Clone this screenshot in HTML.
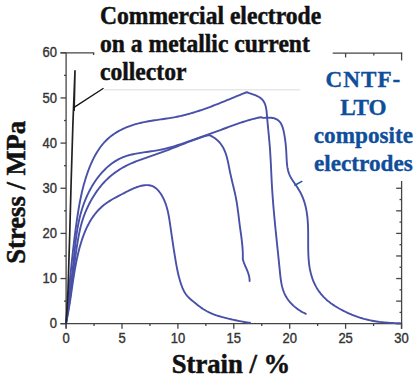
<!DOCTYPE html>
<html><head><meta charset="utf-8"><style>
html,body{margin:0;padding:0;background:#fff;width:418px;height:379px;overflow:hidden}
svg{display:block}
.tl{font-family:"Liberation Sans",sans-serif;font-size:13px;fill:#333;stroke:#333;stroke-width:0.35px}
.ti{font-family:"Liberation Serif",serif;font-weight:bold;font-size:23.6px;fill:#111;stroke:#111;stroke-width:0.45px}
.bl{font-family:"Liberation Serif",serif;font-weight:bold;font-size:23.2px;fill:#0f4e9a;stroke:#0f4e9a;stroke-width:0.35px}
.ax{font-family:"Liberation Serif",serif;font-weight:bold;font-size:27px;fill:#111;stroke:#111;stroke-width:0.5px}
</style></head><body>
<svg width="418" height="379" viewBox="0 0 418 379">
<line x1="66.1" y1="52.8" x2="66.1" y2="328.5" stroke="#444" stroke-width="1.3"/>
<line x1="60.5" y1="52.8" x2="94.2" y2="52.8" stroke="#444" stroke-width="1.3"/>
<line x1="93.6" y1="52.8" x2="93.6" y2="55" stroke="#444" stroke-width="1.3"/>
<line x1="332.7" y1="53.1" x2="402.2" y2="53.1" stroke="#444" stroke-width="1.3"/>
<line x1="401.6" y1="52.5" x2="401.6" y2="60.5" stroke="#444" stroke-width="1.3"/>
<line x1="345.6" y1="53.1" x2="345.6" y2="57.5" stroke="#444" stroke-width="1.3"/>
<line x1="373.8" y1="53.1" x2="373.8" y2="55.5" stroke="#444" stroke-width="1.3"/>
<line x1="60.5" y1="323.7" x2="402.2" y2="323.7" stroke="#444" stroke-width="1.3"/>
<line x1="401.6" y1="181" x2="401.6" y2="328.8" stroke="#444" stroke-width="1.3"/>
<line x1="60.5" y1="323.70" x2="66.1" y2="323.70" stroke="#444" stroke-width="1.3"/>
<text transform="translate(57,328.30) scale(1,1.08)" text-anchor="end" class="tl">0</text>
<line x1="64" y1="301.12" x2="66.1" y2="301.12" stroke="#444" stroke-width="1.3"/>
<line x1="60.5" y1="278.55" x2="66.1" y2="278.55" stroke="#444" stroke-width="1.3"/>
<text transform="translate(57,283.15) scale(1,1.08)" text-anchor="end" class="tl">10</text>
<line x1="64" y1="255.97" x2="66.1" y2="255.97" stroke="#444" stroke-width="1.3"/>
<line x1="60.5" y1="233.40" x2="66.1" y2="233.40" stroke="#444" stroke-width="1.3"/>
<text transform="translate(57,238.00) scale(1,1.08)" text-anchor="end" class="tl">20</text>
<line x1="64" y1="210.82" x2="66.1" y2="210.82" stroke="#444" stroke-width="1.3"/>
<line x1="60.5" y1="188.25" x2="66.1" y2="188.25" stroke="#444" stroke-width="1.3"/>
<text transform="translate(57,192.85) scale(1,1.08)" text-anchor="end" class="tl">30</text>
<line x1="64" y1="165.68" x2="66.1" y2="165.68" stroke="#444" stroke-width="1.3"/>
<line x1="60.5" y1="143.10" x2="66.1" y2="143.10" stroke="#444" stroke-width="1.3"/>
<text transform="translate(57,147.70) scale(1,1.08)" text-anchor="end" class="tl">40</text>
<line x1="64" y1="120.53" x2="66.1" y2="120.53" stroke="#444" stroke-width="1.3"/>
<line x1="60.5" y1="97.95" x2="66.1" y2="97.95" stroke="#444" stroke-width="1.3"/>
<text transform="translate(57,102.55) scale(1,1.08)" text-anchor="end" class="tl">50</text>
<line x1="64" y1="75.38" x2="66.1" y2="75.38" stroke="#444" stroke-width="1.3"/>
<line x1="60.5" y1="52.80" x2="66.1" y2="52.80" stroke="#444" stroke-width="1.3"/>
<text transform="translate(57,57.40) scale(1,1.08)" text-anchor="end" class="tl">60</text>
<line x1="396.2" y1="323.70" x2="401.6" y2="323.70" stroke="#444" stroke-width="1.3"/>
<line x1="399.5" y1="312.41" x2="401.6" y2="312.41" stroke="#444" stroke-width="1.3"/>
<line x1="396.2" y1="301.12" x2="401.6" y2="301.12" stroke="#444" stroke-width="1.3"/>
<line x1="399.5" y1="289.84" x2="401.6" y2="289.84" stroke="#444" stroke-width="1.3"/>
<line x1="396.2" y1="278.55" x2="401.6" y2="278.55" stroke="#444" stroke-width="1.3"/>
<line x1="399.5" y1="267.26" x2="401.6" y2="267.26" stroke="#444" stroke-width="1.3"/>
<line x1="396.2" y1="255.97" x2="401.6" y2="255.97" stroke="#444" stroke-width="1.3"/>
<line x1="399.5" y1="244.69" x2="401.6" y2="244.69" stroke="#444" stroke-width="1.3"/>
<line x1="396.2" y1="233.40" x2="401.6" y2="233.40" stroke="#444" stroke-width="1.3"/>
<line x1="399.5" y1="222.11" x2="401.6" y2="222.11" stroke="#444" stroke-width="1.3"/>
<line x1="396.2" y1="210.82" x2="401.6" y2="210.82" stroke="#444" stroke-width="1.3"/>
<line x1="399.5" y1="199.54" x2="401.6" y2="199.54" stroke="#444" stroke-width="1.3"/>
<line x1="396.2" y1="188.25" x2="401.6" y2="188.25" stroke="#444" stroke-width="1.3"/>
<line x1="66.10" y1="323.7" x2="66.10" y2="328.8" stroke="#444" stroke-width="1.3"/>
<text transform="translate(66.10,343) scale(1,1.08)" text-anchor="middle" class="tl">0</text>
<line x1="122.00" y1="323.7" x2="122.00" y2="328.8" stroke="#444" stroke-width="1.3"/>
<text transform="translate(122.00,343) scale(1,1.08)" text-anchor="middle" class="tl">5</text>
<line x1="177.90" y1="323.7" x2="177.90" y2="328.8" stroke="#444" stroke-width="1.3"/>
<text transform="translate(177.90,343) scale(1,1.08)" text-anchor="middle" class="tl">10</text>
<line x1="233.80" y1="323.7" x2="233.80" y2="328.8" stroke="#444" stroke-width="1.3"/>
<text transform="translate(233.80,343) scale(1,1.08)" text-anchor="middle" class="tl">15</text>
<line x1="289.70" y1="323.7" x2="289.70" y2="328.8" stroke="#444" stroke-width="1.3"/>
<text transform="translate(289.70,343) scale(1,1.08)" text-anchor="middle" class="tl">20</text>
<line x1="345.60" y1="323.7" x2="345.60" y2="328.8" stroke="#444" stroke-width="1.3"/>
<text transform="translate(345.60,343) scale(1,1.08)" text-anchor="middle" class="tl">25</text>
<line x1="401.50" y1="323.7" x2="401.50" y2="328.8" stroke="#444" stroke-width="1.3"/>
<text transform="translate(401.50,343) scale(1,1.08)" text-anchor="middle" class="tl">30</text>
<line x1="94.05" y1="323.7" x2="94.05" y2="326" stroke="#444" stroke-width="1.3"/>
<line x1="149.95" y1="323.7" x2="149.95" y2="326" stroke="#444" stroke-width="1.3"/>
<line x1="205.85" y1="323.7" x2="205.85" y2="326" stroke="#444" stroke-width="1.3"/>
<line x1="261.75" y1="323.7" x2="261.75" y2="326" stroke="#444" stroke-width="1.3"/>
<line x1="317.65" y1="323.7" x2="317.65" y2="326" stroke="#444" stroke-width="1.3"/>
<line x1="373.55" y1="323.7" x2="373.55" y2="326" stroke="#444" stroke-width="1.3"/>
<line x1="104" y1="89.8" x2="300" y2="89.8" stroke="#e6e8ea" stroke-width="1.5"/>
<path d="M66.00,323.50 L66.11,321.99 L66.24,320.51 L66.38,319.02 L66.52,317.54 L66.66,316.06 L66.79,314.57 L66.93,313.08 L67.07,311.60 L67.20,310.11 L67.34,308.63 L67.48,307.14 L67.61,305.65 L67.75,304.16 L67.88,302.67 L68.02,301.19 L68.15,299.70 L68.29,298.21 L68.43,296.72 L68.56,295.23 L68.70,293.74 L68.84,292.25 L68.97,290.76 L69.11,289.27 L69.25,287.78 L69.39,286.28 L69.53,284.79 L69.67,283.30 L69.81,281.81 L69.95,280.32 L70.09,278.83 L70.24,277.34 L70.38,275.85 L70.53,274.36 L70.67,272.86 L70.82,271.37 L70.97,269.88 L71.12,268.39 L71.27,266.90 L71.42,265.41 L71.57,263.92 L71.73,262.43 L71.88,260.94 L72.04,259.45 L72.20,257.96 L72.36,256.47 L72.52,254.99 L72.68,253.50 L72.85,252.01 L73.01,250.52 L73.18,249.03 L73.35,247.55 L73.52,246.06 L73.70,244.57 L73.87,243.09 L74.05,241.60 L74.23,240.12 L74.41,238.64 L74.60,237.15 L74.79,235.67 L74.97,234.19 L75.17,232.71 L75.36,231.22 L75.55,229.74 L75.75,228.26 L75.95,226.79 L76.16,225.31 L76.36,223.83 L76.57,222.35 L76.78,220.88 L77.00,219.40 L77.21,217.93 L77.43,216.45 L77.66,214.98 L77.89,213.51 L78.12,212.04 L78.36,210.57 L78.60,209.10 L78.85,207.63 L79.11,206.17 L79.37,204.70 L79.64,203.24 L79.91,201.77 L80.20,200.31 L80.49,198.85 L80.79,197.40 L81.09,195.94 L81.41,194.48 L81.74,193.03 L82.07,191.58 L82.42,190.12 L82.78,188.68 L83.14,187.23 L83.52,185.78 L83.91,184.34 L84.32,182.90 L84.73,181.45 L85.16,180.02 L85.60,178.58 L86.05,177.14 L86.52,175.71 L87.00,174.28 L87.49,172.85 L88.00,171.43 L88.53,170.00 L89.07,168.58 L89.63,167.16 L90.20,165.75 L90.80,164.34 L91.40,162.94 L92.03,161.55 L92.68,160.18 L93.35,158.81 L94.03,157.45 L94.74,156.11 L95.47,154.78 L96.22,153.47 L96.99,152.18 L97.78,150.91 L98.60,149.66 L99.45,148.42 L100.31,147.22 L101.21,146.03 L102.12,144.87 L103.07,143.74 L104.04,142.63 L105.04,141.55 L106.06,140.51 L107.12,139.49 L108.20,138.51 L109.30,137.55 L110.43,136.62 L111.59,135.73 L112.77,134.86 L113.97,134.02 L115.19,133.21 L116.43,132.42 L117.69,131.67 L118.97,130.94 L120.27,130.24 L121.59,129.56 L122.92,128.91 L124.26,128.29 L125.62,127.70 L127.00,127.12 L128.38,126.58 L129.78,126.06 L131.19,125.56 L132.61,125.09 L134.03,124.64 L135.47,124.21 L136.91,123.81 L138.36,123.43 L139.81,123.07 L141.27,122.73 L142.74,122.41 L144.21,122.10 L145.68,121.81 L147.16,121.53 L148.65,121.26 L150.13,121.01 L151.62,120.77 L153.11,120.53 L154.60,120.30 L156.10,120.08 L157.59,119.86 L159.09,119.64 L160.58,119.43 L162.08,119.21 L163.58,118.99 L165.07,118.78 L166.56,118.55 L168.05,118.32 L169.54,118.09 L171.03,117.85 L172.51,117.60 L173.99,117.33 L175.46,117.06 L176.93,116.77 L178.40,116.47 L179.86,116.15 L181.31,115.82 L182.77,115.48 L184.21,115.13 L185.66,114.76 L187.10,114.39 L188.54,114.00 L189.97,113.60 L191.40,113.19 L192.83,112.77 L194.25,112.34 L195.67,111.90 L197.09,111.45 L198.50,110.99 L199.91,110.52 L201.32,110.05 L202.73,109.56 L204.13,109.07 L205.53,108.58 L206.93,108.07 L208.33,107.56 L209.73,107.04 L211.12,106.52 L212.52,105.99 L213.91,105.45 L215.30,104.91 L216.69,104.37 L218.08,103.82 L219.46,103.27 L220.85,102.71 L222.24,102.16 L223.62,101.59 L225.00,101.03 L226.39,100.46 L227.77,99.90 L229.16,99.33 L230.54,98.76 L231.93,98.18 L233.31,97.61 L234.69,97.04 L236.08,96.47 L237.47,95.90 L238.85,95.33 L240.24,94.76 L241.63,94.19 L243.02,93.62 L244.41,93.06 L245.80,92.50 L247.30,92.30 L247.30,92.30 L248.58,92.84 L249.98,93.33 L251.42,93.81 L252.89,94.32 L254.36,94.85 L255.81,95.42 L257.21,96.05 L258.55,96.75 L259.81,97.52 L260.96,98.38 L262.00,99.32 L262.92,100.35 L263.71,101.47 L264.38,102.68 L264.94,103.95 L265.41,105.29 L265.79,106.68 L266.10,108.12 L266.35,109.59 L266.55,111.10 L266.71,112.63 L266.85,114.17 L266.98,115.71 L267.10,117.25 L267.23,118.77 L267.37,120.29 L267.50,121.81 L267.64,123.31 L267.78,124.81 L267.92,126.30 L268.06,127.79 L268.21,129.27 L268.35,130.75 L268.49,132.23 L268.64,133.70 L268.78,135.17 L268.92,136.64 L269.06,138.10 L269.19,139.57 L269.33,141.04 L269.46,142.50 L269.58,143.97 L269.70,145.44 L269.82,146.92 L269.93,148.39 L270.03,149.87 L270.13,151.35 L270.23,152.83 L270.32,154.32 L270.41,155.81 L270.50,157.30 L270.58,158.79 L270.66,160.28 L270.74,161.77 L270.82,163.27 L270.89,164.77 L270.97,166.26 L271.04,167.76 L271.11,169.26 L271.18,170.76 L271.25,172.26 L271.32,173.76 L271.39,175.26 L271.47,176.76 L271.54,178.26 L271.62,179.76 L271.69,181.26 L271.77,182.76 L271.86,184.26 L271.94,185.75 L272.03,187.25 L272.12,188.74 L272.21,190.23 L272.31,191.72 L272.41,193.21 L272.52,194.70 L272.62,196.19 L272.73,197.68 L272.84,199.16 L272.95,200.65 L273.07,202.13 L273.19,203.62 L273.31,205.10 L273.43,206.58 L273.56,208.07 L273.69,209.55 L273.82,211.03 L273.95,212.51 L274.08,213.99 L274.22,215.47 L274.35,216.95 L274.49,218.43 L274.63,219.91 L274.77,221.38 L274.92,222.86 L275.06,224.34 L275.20,225.82 L275.35,227.30 L275.50,228.78 L275.65,230.26 L275.80,231.74 L275.95,233.22 L276.10,234.70 L276.25,236.18 L276.40,237.66 L276.56,239.14 L276.71,240.62 L276.86,242.10 L277.02,243.58 L277.17,245.07 L277.33,246.55 L277.48,248.03 L277.64,249.52 L277.79,251.01 L277.95,252.49 L278.10,253.98 L278.26,255.47 L278.41,256.96 L278.56,258.45 L278.72,259.95 L278.87,261.44 L279.02,262.93 L279.17,264.43 L279.32,265.93 L279.47,267.43 L279.62,268.93 L279.77,270.43 L279.92,271.93 L280.07,273.44 L280.22,274.94 L280.39,276.43 L280.57,277.93 L280.77,279.41 L281.00,280.89 L281.24,282.36 L281.52,283.82 L281.82,285.27 L282.16,286.71 L282.54,288.12 L282.96,289.53 L283.43,290.91 L283.95,292.28 L284.52,293.62 L285.15,294.94 L285.84,296.24 L286.59,297.52 L287.40,298.76 L288.26,299.98 L289.18,301.17 L290.16,302.33 L291.17,303.45 L292.24,304.54 L293.34,305.59 L294.48,306.61 L295.65,307.58 L296.85,308.52 L298.08,309.41 L299.33,310.26 L300.60,311.06 L301.88,311.81 L303.18,312.52 L304.49,313.17 L305.80,313.80" fill="none" stroke="#4850a8" stroke-width="1.9" stroke-linejoin="round" stroke-linecap="round"/>
<path d="M66.00,323.50 L66.16,322.01 L66.33,320.52 L66.51,319.04 L66.69,317.55 L66.87,316.07 L67.05,314.59 L67.23,313.10 L67.42,311.62 L67.60,310.13 L67.79,308.65 L67.98,307.16 L68.17,305.67 L68.36,304.19 L68.55,302.70 L68.74,301.21 L68.93,299.73 L69.13,298.24 L69.32,296.75 L69.51,295.27 L69.70,293.78 L69.89,292.29 L70.08,290.80 L70.27,289.31 L70.46,287.83 L70.65,286.34 L70.84,284.85 L71.02,283.36 L71.21,281.87 L71.39,280.38 L71.57,278.89 L71.75,277.40 L71.93,275.91 L72.10,274.42 L72.28,272.93 L72.45,271.44 L72.62,269.95 L72.78,268.46 L72.95,266.97 L73.11,265.48 L73.26,263.99 L73.42,262.50 L73.57,261.01 L73.72,259.52 L73.87,258.02 L74.02,256.53 L74.17,255.04 L74.32,253.56 L74.47,252.07 L74.62,250.58 L74.78,249.09 L74.94,247.60 L75.10,246.12 L75.26,244.63 L75.43,243.15 L75.61,241.67 L75.79,240.19 L75.98,238.71 L76.17,237.23 L76.37,235.75 L76.58,234.27 L76.80,232.80 L77.03,231.33 L77.26,229.86 L77.51,228.39 L77.77,226.92 L78.04,225.46 L78.32,223.99 L78.61,222.53 L78.92,221.07 L79.24,219.62 L79.58,218.17 L79.93,216.72 L80.29,215.27 L80.67,213.82 L81.07,212.38 L81.48,210.94 L81.92,209.50 L82.37,208.07 L82.83,206.64 L83.32,205.22 L83.82,203.80 L84.35,202.39 L84.89,200.98 L85.45,199.58 L86.03,198.19 L86.62,196.80 L87.24,195.43 L87.88,194.06 L88.53,192.70 L89.21,191.35 L89.90,190.02 L90.62,188.69 L91.35,187.38 L92.11,186.08 L92.88,184.79 L93.68,183.52 L94.49,182.25 L95.33,181.01 L96.19,179.78 L97.07,178.56 L97.97,177.36 L98.90,176.18 L99.84,175.02 L100.81,173.87 L101.80,172.74 L102.81,171.63 L103.84,170.54 L104.89,169.47 L105.97,168.43 L107.07,167.40 L108.19,166.41 L109.33,165.44 L110.50,164.50 L111.68,163.59 L112.89,162.72 L114.11,161.88 L115.36,161.08 L116.62,160.32 L117.91,159.59 L119.22,158.91 L120.54,158.27 L121.89,157.68 L123.25,157.12 L124.63,156.61 L126.02,156.13 L127.43,155.69 L128.85,155.27 L130.29,154.89 L131.74,154.53 L133.19,154.20 L134.66,153.89 L136.14,153.60 L137.62,153.33 L139.12,153.08 L140.61,152.83 L142.12,152.60 L143.62,152.38 L145.13,152.16 L146.64,151.95 L148.16,151.74 L149.67,151.53 L151.18,151.31 L152.69,151.10 L154.19,150.87 L155.69,150.63 L157.19,150.38 L158.68,150.12 L160.16,149.84 L161.64,149.54 L163.11,149.22 L164.57,148.88 L166.02,148.53 L167.47,148.17 L168.91,147.78 L170.34,147.39 L171.77,146.98 L173.20,146.56 L174.62,146.12 L176.03,145.68 L177.45,145.23 L178.86,144.77 L180.27,144.30 L181.67,143.82 L183.08,143.34 L184.48,142.85 L185.88,142.36 L187.28,141.86 L188.68,141.36 L190.08,140.86 L191.48,140.36 L192.88,139.86 L194.29,139.36 L195.69,138.85 L197.10,138.35 L198.50,137.85 L199.91,137.34 L201.32,136.84 L202.72,136.34 L204.13,135.83 L205.54,135.33 L206.95,134.83 L208.36,134.32 L209.77,133.82 L211.18,133.31 L212.59,132.81 L214.00,132.30 L215.41,131.80 L216.82,131.29 L218.23,130.78 L219.65,130.28 L221.06,129.77 L222.47,129.26 L223.87,128.76 L225.28,128.25 L226.69,127.74 L228.10,127.23 L229.51,126.72 L230.91,126.21 L232.32,125.70 L233.73,125.20 L235.13,124.69 L236.54,124.19 L237.95,123.69 L239.36,123.20 L240.77,122.71 L242.19,122.24 L243.61,121.77 L245.03,121.31 L246.45,120.86 L247.88,120.43 L249.32,120.00 L250.76,119.59 L252.20,119.20 L253.65,118.82 L255.11,118.46 L256.58,118.12 L258.05,117.80 L259.53,117.50 L261.00,117.20 L261.00,117.20 L262.30,117.75 L263.70,117.83 L265.16,117.82 L266.67,117.76 L268.20,117.70 L269.73,117.69 L271.25,117.76 L272.73,117.95 L274.15,118.29 L275.51,118.77 L276.78,119.38 L277.96,120.14 L279.02,121.04 L279.96,122.07 L280.78,123.24 L281.49,124.51 L282.09,125.87 L282.61,127.31 L283.06,128.79 L283.45,130.32 L283.79,131.86 L284.09,133.40 L284.38,134.92 L284.63,136.43 L284.87,137.93 L285.09,139.42 L285.29,140.90 L285.47,142.37 L285.63,143.84 L285.78,145.31 L285.91,146.78 L286.03,148.24 L286.14,149.71 L286.23,151.18 L286.32,152.66 L286.40,154.15 L286.47,155.65 L286.53,157.16 L286.61,158.67 L286.69,160.18 L286.79,161.69 L286.91,163.19 L287.05,164.68 L287.24,166.17 L287.47,167.63 L287.74,169.08 L288.07,170.51 L288.46,171.91 L288.91,173.28 L289.44,174.62 L290.04,175.92 L290.71,177.20 L291.44,178.47 L292.21,179.73 L293.02,180.99 L293.86,182.25 L294.72,183.52 L295.58,184.79 L296.44,186.06 L297.30,187.34 L298.13,188.62 L298.93,189.92 L299.70,191.23 L300.42,192.55 L301.10,193.88 L301.74,195.22 L302.35,196.57 L302.91,197.94 L303.43,199.31 L303.92,200.69 L304.38,202.09 L304.80,203.49 L305.19,204.90 L305.55,206.32 L305.88,207.75 L306.18,209.18 L306.45,210.63 L306.70,212.08 L306.92,213.53 L307.12,215.00 L307.30,216.47 L307.46,217.94 L307.60,219.42 L307.72,220.91 L307.82,222.40 L307.90,223.89 L307.98,225.39 L308.03,226.89 L308.08,228.40 L308.12,229.91 L308.14,231.42 L308.16,232.94 L308.17,234.45 L308.18,235.97 L308.18,237.49 L308.18,239.01 L308.17,240.53 L308.17,242.05 L308.17,243.57 L308.18,245.09 L308.19,246.60 L308.20,248.12 L308.22,249.63 L308.26,251.14 L308.30,252.65 L308.35,254.15 L308.42,255.65 L308.50,257.15 L308.60,258.64 L308.72,260.13 L308.85,261.61 L309.01,263.08 L309.19,264.55 L309.39,266.01 L309.61,267.47 L309.87,268.92 L310.15,270.36 L310.46,271.79 L310.80,273.21 L311.17,274.63 L311.58,276.03 L312.02,277.43 L312.49,278.81 L313.01,280.18 L313.56,281.55 L314.16,282.90 L314.79,284.24 L315.47,285.56 L316.19,286.87 L316.95,288.16 L317.74,289.43 L318.58,290.68 L319.45,291.91 L320.35,293.11 L321.29,294.28 L322.27,295.43 L323.28,296.54 L324.32,297.62 L325.39,298.67 L326.49,299.68 L327.62,300.66 L328.77,301.61 L329.95,302.53 L331.15,303.42 L332.38,304.29 L333.62,305.13 L334.87,305.95 L336.14,306.74 L337.43,307.51 L338.72,308.27 L340.03,309.00 L341.34,309.72 L342.66,310.42 L343.99,311.10 L345.32,311.76 L346.67,312.41 L348.02,313.03 L349.37,313.64 L350.74,314.23 L352.11,314.80 L353.49,315.35 L354.87,315.88 L356.27,316.40 L357.67,316.89 L359.07,317.36 L360.49,317.82 L361.91,318.25 L363.33,318.67 L364.77,319.06 L366.21,319.43 L367.66,319.78 L369.11,320.11 L370.57,320.42 L372.04,320.71 L373.51,320.99 L374.99,321.24 L376.47,321.47 L377.96,321.69 L379.45,321.89 L380.94,322.07 L382.43,322.24 L383.92,322.40 L385.42,322.54 L386.91,322.66 L388.41,322.78 L389.90,322.88 L391.39,322.97 L392.88,323.05 L394.37,323.12 L395.85,323.18 L397.33,323.24 L398.81,323.28 L400.30,323.30" fill="none" stroke="#4850a8" stroke-width="1.9" stroke-linejoin="round" stroke-linecap="round"/>
<path d="M66.00,323.50 L66.11,321.99 L66.39,320.53 L66.68,319.06 L66.95,317.59 L67.22,316.12 L67.48,314.64 L67.74,313.17 L67.99,311.69 L68.23,310.22 L68.47,308.74 L68.71,307.26 L68.94,305.78 L69.16,304.30 L69.38,302.82 L69.60,301.34 L69.82,299.85 L70.03,298.37 L70.23,296.88 L70.44,295.40 L70.64,293.91 L70.84,292.43 L71.03,290.94 L71.23,289.45 L71.42,287.96 L71.61,286.48 L71.80,284.99 L71.99,283.50 L72.17,282.01 L72.36,280.52 L72.54,279.03 L72.73,277.54 L72.91,276.05 L73.10,274.56 L73.28,273.07 L73.47,271.59 L73.65,270.10 L73.84,268.61 L74.03,267.12 L74.22,265.63 L74.41,264.15 L74.60,262.66 L74.80,261.17 L74.99,259.69 L75.19,258.20 L75.39,256.72 L75.60,255.24 L75.81,253.75 L76.02,252.27 L76.24,250.79 L76.46,249.31 L76.68,247.83 L76.91,246.36 L77.14,244.88 L77.38,243.40 L77.62,241.93 L77.87,240.46 L78.12,238.99 L78.38,237.52 L78.65,236.05 L78.94,234.59 L79.23,233.12 L79.53,231.67 L79.85,230.21 L80.18,228.76 L80.53,227.31 L80.90,225.87 L81.28,224.43 L81.68,223.00 L82.10,221.57 L82.54,220.14 L83.00,218.72 L83.48,217.31 L83.98,215.90 L84.50,214.50 L85.04,213.11 L85.61,211.72 L86.19,210.34 L86.79,208.97 L87.41,207.60 L88.06,206.24 L88.72,204.89 L89.40,203.55 L90.10,202.21 L90.82,200.89 L91.56,199.57 L92.31,198.26 L93.09,196.97 L93.89,195.68 L94.70,194.41 L95.54,193.14 L96.39,191.90 L97.26,190.66 L98.15,189.45 L99.06,188.24 L99.99,187.06 L100.94,185.89 L101.91,184.74 L102.90,183.62 L103.90,182.51 L104.93,181.42 L105.97,180.35 L107.04,179.31 L108.12,178.29 L109.23,177.29 L110.35,176.31 L111.48,175.36 L112.64,174.43 L113.81,173.52 L115.00,172.63 L116.21,171.77 L117.43,170.93 L118.67,170.11 L119.92,169.32 L121.18,168.54 L122.46,167.79 L123.76,167.06 L125.07,166.35 L126.39,165.67 L127.72,165.00 L129.06,164.36 L130.42,163.74 L131.79,163.14 L133.17,162.56 L134.55,162.00 L135.95,161.45 L137.35,160.91 L138.75,160.39 L140.17,159.88 L141.58,159.37 L143.00,158.88 L144.43,158.38 L145.85,157.89 L147.28,157.41 L148.70,156.92 L150.13,156.44 L151.55,155.95 L152.97,155.45 L154.39,154.96 L155.80,154.45 L157.21,153.95 L158.62,153.44 L160.03,152.93 L161.44,152.41 L162.84,151.89 L164.24,151.37 L165.64,150.84 L167.04,150.32 L168.44,149.79 L169.83,149.25 L171.23,148.72 L172.62,148.18 L174.01,147.64 L175.40,147.10 L176.79,146.56 L178.19,146.02 L179.57,145.47 L180.96,144.93 L182.35,144.38 L183.74,143.84 L185.13,143.29 L186.52,142.74 L187.91,142.20 L189.30,141.65 L190.70,141.11 L192.09,140.58 L193.49,140.05 L194.89,139.53 L196.30,139.02 L197.70,138.51 L199.12,138.02 L200.53,137.53 L201.95,137.06 L203.38,136.60 L204.82,136.16 L206.25,135.73 L207.70,135.31 L209.20,135.10 L209.20,135.10 L210.50,135.71 L211.95,136.43 L213.32,137.21 L214.62,138.06 L215.86,138.96 L217.02,139.92 L218.12,140.93 L219.15,141.99 L220.11,143.09 L221.01,144.24 L221.84,145.43 L222.61,146.65 L223.31,147.91 L223.96,149.20 L224.56,150.52 L225.11,151.86 L225.62,153.23 L226.09,154.62 L226.52,156.03 L226.92,157.46 L227.29,158.90 L227.64,160.36 L227.97,161.83 L228.28,163.30 L228.58,164.79 L228.87,166.27 L229.16,167.76 L229.45,169.25 L229.75,170.73 L230.05,172.21 L230.36,173.68 L230.69,175.15 L231.02,176.61 L231.35,178.06 L231.69,179.51 L232.04,180.96 L232.38,182.41 L232.73,183.85 L233.08,185.29 L233.42,186.73 L233.77,188.17 L234.11,189.61 L234.44,191.05 L234.77,192.49 L235.09,193.93 L235.40,195.38 L235.70,196.82 L235.98,198.28 L236.26,199.73 L236.52,201.19 L236.77,202.65 L237.00,204.12 L237.23,205.59 L237.44,207.06 L237.64,208.54 L237.84,210.02 L238.03,211.50 L238.22,212.99 L238.41,214.47 L238.59,215.96 L238.77,217.44 L238.95,218.93 L239.13,220.42 L239.32,221.90 L239.51,223.39 L239.70,224.87 L239.90,226.35 L240.10,227.83 L240.31,229.32 L240.52,230.80 L240.72,232.27 L240.93,233.75 L241.13,235.23 L241.32,236.71 L241.51,238.19 L241.69,239.67 L241.87,241.15 L242.03,242.63 L242.19,244.11 L242.33,245.59 L242.45,247.07 L242.57,248.56 L242.66,250.04 L242.74,251.53 L242.80,253.02 L242.84,254.51 L242.85,256.00 L242.85,257.50 L242.80,259.00 L242.80,259.00 L243.17,260.40 L243.61,261.77 L244.10,263.13 L244.63,264.48 L245.19,265.82 L245.77,267.16 L246.35,268.49 L246.92,269.83 L247.47,271.17 L247.98,272.52 L248.45,273.88 L248.85,275.26 L249.18,276.66 L249.42,278.08 L249.57,279.53 L249.60,281.00" fill="none" stroke="#4850a8" stroke-width="1.9" stroke-linejoin="round" stroke-linecap="round"/>
<path d="M66.00,323.50 L66.28,322.08 L66.60,320.58 L66.91,319.07 L67.21,317.57 L67.50,316.07 L67.79,314.58 L68.06,313.09 L68.33,311.60 L68.60,310.11 L68.85,308.62 L69.10,307.14 L69.34,305.65 L69.58,304.17 L69.82,302.69 L70.05,301.22 L70.27,299.74 L70.50,298.27 L70.72,296.79 L70.93,295.32 L71.15,293.85 L71.36,292.38 L71.58,290.91 L71.79,289.44 L72.00,287.97 L72.21,286.51 L72.43,285.04 L72.64,283.58 L72.86,282.11 L73.08,280.65 L73.30,279.18 L73.53,277.72 L73.76,276.25 L73.99,274.79 L74.23,273.32 L74.47,271.86 L74.72,270.39 L74.97,268.93 L75.23,267.46 L75.50,266.00 L75.78,264.53 L76.06,263.06 L76.35,261.59 L76.65,260.12 L76.96,258.65 L77.28,257.18 L77.61,255.71 L77.95,254.23 L78.30,252.76 L78.66,251.28 L79.03,249.81 L79.42,248.33 L79.82,246.85 L80.24,245.38 L80.66,243.91 L81.11,242.45 L81.57,240.99 L82.04,239.53 L82.53,238.09 L83.04,236.65 L83.57,235.22 L84.11,233.80 L84.68,232.38 L85.26,230.98 L85.86,229.60 L86.49,228.22 L87.13,226.86 L87.80,225.52 L88.49,224.19 L89.20,222.87 L89.93,221.58 L90.69,220.30 L91.47,219.04 L92.28,217.80 L93.11,216.59 L93.97,215.39 L94.86,214.22 L95.77,213.07 L96.71,211.95 L97.68,210.85 L98.68,209.77 L99.71,208.73 L100.77,207.71 L101.85,206.72 L102.97,205.77 L104.12,204.84 L105.30,203.94 L106.51,203.07 L107.74,202.22 L108.99,201.40 L110.27,200.59 L111.56,199.81 L112.87,199.05 L114.18,198.30 L115.51,197.56 L116.85,196.84 L118.20,196.12 L119.55,195.42 L120.90,194.72 L122.25,194.02 L123.59,193.33 L124.93,192.64 L126.27,191.95 L127.60,191.26 L128.92,190.59 L130.26,189.92 L131.60,189.28 L132.95,188.66 L134.31,188.07 L135.69,187.52 L137.09,187.00 L138.52,186.54 L139.98,186.12 L141.46,185.76 L142.97,185.46 L144.48,185.25 L146.00,185.14 L147.49,185.12 L148.96,185.23 L150.39,185.47 L151.77,185.86 L153.09,186.40 L154.34,187.10 L155.53,187.92 L156.66,188.87 L157.72,189.92 L158.72,191.05 L159.67,192.25 L160.56,193.51 L161.39,194.79 L162.16,196.10 L162.89,197.43 L163.57,198.78 L164.20,200.14 L164.78,201.52 L165.33,202.92 L165.83,204.32 L166.30,205.75 L166.74,207.18 L167.14,208.63 L167.51,210.08 L167.86,211.54 L168.18,213.01 L168.48,214.49 L168.76,215.97 L169.03,217.46 L169.28,218.95 L169.51,220.44 L169.74,221.93 L169.96,223.43 L170.18,224.92 L170.40,226.41 L170.61,227.90 L170.83,229.38 L171.04,230.86 L171.26,232.34 L171.47,233.82 L171.69,235.30 L171.90,236.77 L172.12,238.25 L172.34,239.72 L172.55,241.20 L172.77,242.67 L172.99,244.14 L173.22,245.61 L173.44,247.09 L173.67,248.56 L173.90,250.03 L174.13,251.51 L174.36,252.98 L174.60,254.46 L174.84,255.94 L175.08,257.41 L175.32,258.90 L175.57,260.38 L175.83,261.86 L176.08,263.35 L176.35,264.84 L176.62,266.32 L176.90,267.81 L177.20,269.29 L177.50,270.77 L177.82,272.25 L178.15,273.72 L178.50,275.19 L178.86,276.65 L179.25,278.10 L179.65,279.55 L180.07,280.99 L180.52,282.42 L180.99,283.84 L181.48,285.25 L182.01,286.65 L182.56,288.03 L183.15,289.39 L183.79,290.72 L184.48,292.01 L185.23,293.26 L186.05,294.46 L186.94,295.60 L187.91,296.68 L188.95,297.71 L190.03,298.71 L191.15,299.69 L192.29,300.66 L193.43,301.63 L194.59,302.59 L195.76,303.55 L196.94,304.50 L198.14,305.43 L199.35,306.34 L200.57,307.24 L201.81,308.10 L203.06,308.94 L204.33,309.75 L205.61,310.53 L206.92,311.26 L208.24,311.95 L209.57,312.60 L210.93,313.22 L212.30,313.79 L213.68,314.34 L215.08,314.85 L216.48,315.34 L217.90,315.80 L219.33,316.24 L220.76,316.66 L222.20,317.06 L223.65,317.45 L225.10,317.83 L226.55,318.19 L228.00,318.55 L229.46,318.90 L230.92,319.24 L232.38,319.58 L233.84,319.90 L235.30,320.22 L236.77,320.53 L238.23,320.83 L239.70,321.12 L241.16,321.41 L242.63,321.68 L244.10,321.95 L245.57,322.20 L247.03,322.45 L248.50,322.69 L250.00,322.80" fill="none" stroke="#4850a8" stroke-width="1.9" stroke-linejoin="round" stroke-linecap="round"/>
<path d="M66.2,323.7 L68,290 L69.7,235 L71.2,180 L72.9,124 L75,70.8 L74.1,111" fill="none" stroke="#222" stroke-width="1.7" stroke-linejoin="round"/>
<line x1="73.3" y1="107.9" x2="103.5" y2="88.2" stroke="#111" stroke-width="1.3"/>
<line x1="294.4" y1="185.5" x2="302.3" y2="181.1" stroke="#1d5f9e" stroke-width="1.6"/>
<text class="ti" transform="translate(100,23.8) scale(1,1.04)">Commercial electrode</text>
<text class="ti" transform="translate(100,52) scale(1,1.04)">on a metallic current</text>
<text class="ti" transform="translate(100,79.6) scale(1,1.04)">collector</text>
<text class="bl" transform="translate(363.4,86.80) scale(1,1.04)" text-anchor="middle" letter-spacing="1">CNTF-</text>
<text class="bl" transform="translate(363.4,114.70) scale(1,1.04)" text-anchor="middle">LTO</text>
<text class="bl" transform="translate(363.4,142.60) scale(1,1.04)" text-anchor="middle">composite</text>
<text class="bl" transform="translate(363.4,170.50) scale(1,1.04)" text-anchor="middle">electrodes</text>
<text class="ax" x="231" y="373.1" text-anchor="middle" style="font-size:26.7px">Strain / %</text>
<text class="ax" transform="translate(24.9,192.3) rotate(-90)" x="0" y="0" text-anchor="middle" style="font-size:26.6px">Stress / MPa</text>
</svg>
</body></html>
